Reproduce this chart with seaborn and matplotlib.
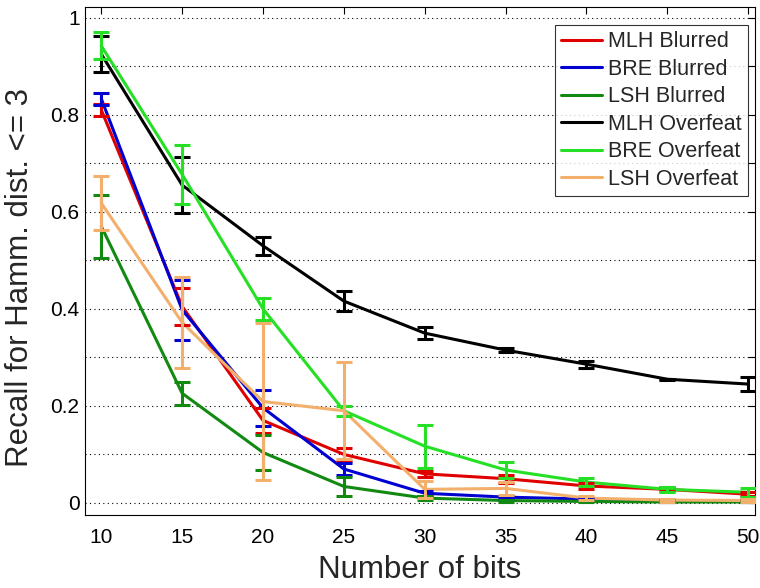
import numpy as np
import pandas as pd
import matplotlib
matplotlib.use("Agg")
import matplotlib.pyplot as plt
import seaborn as sns

bits = [10, 15, 20, 25, 30, 35, 40, 45, 50]

series_names = ["MLH Blurred", "BRE Blurred", "LSH Blurred",
                "MLH Overfeat", "BRE Overfeat", "LSH Overfeat"]

mlh_blurred = [0.810, 0.405, 0.170, 0.100, 0.060, 0.050, 0.035, 0.028, 0.018]
mlh_blurred_err = [0.013, 0.038, 0.026, 0.013, 0.006, 0.008, 0.006, 0.004, 0.004]

bre_blurred = [0.833, 0.398, 0.196, 0.070, 0.020, 0.012, 0.008, 0.005, 0.004]
bre_blurred_err = [0.012, 0.062, 0.037, 0.012, 0.005, 0.003, 0.002, 0.002, 0.002]

lsh_blurred = [0.570, 0.226, 0.104, 0.034, 0.010, 0.005, 0.003, 0.002, 0.002]
lsh_blurred_err = [0.065, 0.024, 0.036, 0.020, 0.004, 0.002, 0.002, 0.001, 0.001]

mlh_overfeat = [0.925, 0.655, 0.530, 0.416, 0.350, 0.315, 0.286, 0.255, 0.245]
mlh_overfeat_err = [0.037, 0.058, 0.019, 0.021, 0.013, 0.004, 0.007, 0.001, 0.015]

bre_overfeat = [0.942, 0.677, 0.400, 0.190, 0.117, 0.068, 0.043, 0.028, 0.022]
bre_overfeat_err = [0.028, 0.060, 0.022, 0.010, 0.044, 0.016, 0.008, 0.005, 0.009]

lsh_overfeat = [0.618, 0.372, 0.209, 0.190, 0.028, 0.030, 0.010, 0.006, 0.005]
lsh_overfeat_err = [0.056, 0.094, 0.162, 0.100, 0.018, 0.013, 0.004, 0.003, 0.003]

means = [mlh_blurred, bre_blurred, lsh_blurred, mlh_overfeat, bre_overfeat, lsh_overfeat]
errs = [mlh_blurred_err, bre_blurred_err, lsh_blurred_err,
        mlh_overfeat_err, bre_overfeat_err, lsh_overfeat_err]

colors = ["#e00000", "#0000d0", "#128a12", "#000000", "#26e026", "#f2b06c"]

df = pd.DataFrame({
    "bits": np.tile(bits, len(series_names)),
    "recall": np.concatenate(means),
    "err": np.concatenate(errs),
    "method": np.repeat(series_names, len(bits)),
})

sns.set_style("white")
plt.rcParams["font.family"] = ["Liberation Sans", "DejaVu Sans"]

fig = plt.figure(figsize=(7.6, 5.88), dpi=100)
ax = fig.add_axes([0.112, 0.124, 0.881, 0.864])

palette = dict(zip(series_names, colors))
sns.lineplot(data=df, x="bits", y="recall", hue="method", hue_order=series_names,
             palette=palette, linewidth=2.2, ax=ax, legend=True, zorder=3)

for name in series_names:
    sub = df[df["method"] == name]
    ax.errorbar(sub["bits"], sub["recall"], yerr=sub["err"], fmt="none",
                ecolor=palette[name], elinewidth=2.2, capsize=5.5, capthick=2.2,
                zorder=3)

ax.set_xlim(9.0, 50.4)
ax.set_ylim(-0.025, 1.022)
ax.set_xticks(bits)
ax.set_xticklabels([str(b) for b in bits])
yt = np.round(np.arange(0, 1.01, 0.1), 1)
ax.set_yticks(yt)
ax.set_yticklabels(["0" if v == 0 else ("1" if v == 1 else (f"{v:.1f}" if round(v * 10) % 2 == 0 else "")) for v in yt])

ax.tick_params(axis="both", direction="in", length=5, width=0.8, top=True, right=True,
               labelsize=15, colors="black")
ax.tick_params(axis="x", pad=9)
ax.tick_params(axis="y", pad=4)
ax.yaxis.grid(True, linestyle=(0, (1, 3)), color="black", linewidth=0.8)
ax.xaxis.grid(False)
for s in ax.spines.values():
    s.set_color("black")
    s.set_linewidth(0.8)

ax.set_xlabel("Number of bits", fontsize=22.5, labelpad=6)
ax.set_ylabel("Recall for Hamm. dist. <= 3", fontsize=22.5)
ax.yaxis.set_label_coords(-0.075, 0.467)

leg = ax.legend(loc="upper right", bbox_to_anchor=(0.9896, 0.9646), borderaxespad=0,
                fontsize=15.5, frameon=True, fancybox=False, edgecolor="black",
                handlelength=1.9, handletextpad=0.25, labelspacing=0.3, borderpad=0.3)
leg.get_frame().set_linewidth(0.8)
for line in leg.get_lines():
    line.set_linewidth(2.2)

fig.savefig("out.png", dpi=100)
